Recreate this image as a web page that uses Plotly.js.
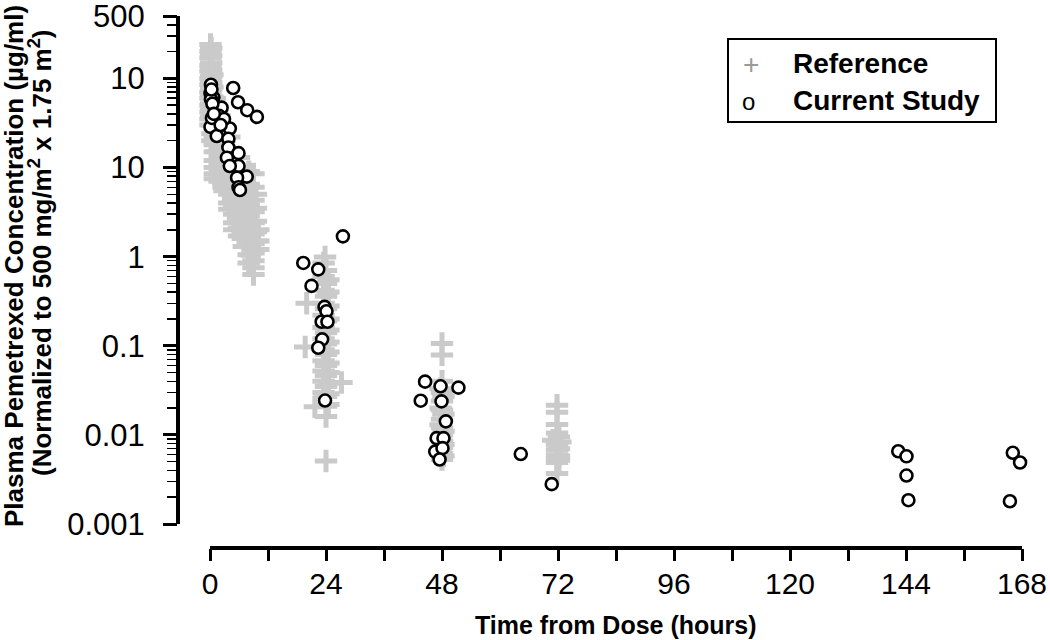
<!DOCTYPE html>
<html>
<head>
<meta charset="utf-8">
<script src="https://cdn.plot.ly/plotly-3.0.1.min.js"></script>
<style>html,body{margin:0;padding:0;background:#fff;}#chart{width:1050px;height:640px;}</style>
</head>
<body>
<div id="chart"></div>
<script>
// ---- Reference data (grey +) : time (h) and concentration (ug/ml) ----
var refHours = [
  0.1,0.1,0.1,0.1,0.1,0.1,0.1,0.1,0.1,0.1,0.1,0.1,0.1,
  0.25,0.25,0.25,0.25,0.25,0.25,0.25,0.25,0.25,0.25,0.25,
  0.5,0.5,0.5,0.5,0.5,0.5,0.5,0.5,
  1,1,1,1,1,1,1,1,1,1,1,
  1.5,1.5,1.5,1.5,1.5,1.5,
  2,2,2,2,2,2,2,2,2,
  3,3,3,3,3,3,3,3,
  4,4,4,4,4,4,4,4,4,
  5,5,5,5,5,5,5,5,5,
  6,6,6,6,6,6,6,6,6,
  7,7,7,7,7,7,7,7,
  8,8,8,8,8,8,8,8,8,8,
  9,9,9,9,9,9,9,9,9,9,9,
  9.5,9.5,9.5,9.5,9.5,9.5,
  10,10,10,
  23.5,23.5,23.5,23.5,23.5,23.5,23.5,23.5,23.5,23.5,23.5,23.5,
  24,24,24,24,24,24,24,24,24,24,24,24,24,24,24,
  24.5,24.5,24.5,24.5,24.5,24.5,24.5,24.5,24.5,24.5,24.5,24.5,
  23.8,20,19.7,27.2,21.7,
  48,48,48,48,48,48,48,48,48,48,48,48,48,
  47.7,47.7,47.7,47.7,47.7,
  48.3,48.3,48.3,48.3,48.3,
  71.8,71.8,71.8,71.8,71.8,71.8,71.8,71.8,71.8,71.8,
  72.5,71,
  72.2,72.2,72.2,72.2
];
var refConc = [
  240,200,170,140,120,100,85,70,60,50,42,35,30,
  220,180,150,125,105,90,75,62,52,44,37,
  110,80,62,48,38,30,24,20,
  60,45,35,28,22,18,15,12,10,8.5,7.5,
  40,30,24,19,15,12,
  38,28,21,17,13.5,11,9,7.5,7,
  26,20,16,12.5,10,8,6.5,5.5,
  22,16,12,9.5,7.5,6,5,4,3.4,
  13,10,7.5,6,4.8,3.8,3,2.4,2,
  13,9.5,7,5.5,4.2,3.3,2.6,2.1,1.7,
  8,6,4.5,3.5,2.7,2.1,1.6,1.3,
  9,6.5,5,3.8,2.9,2.2,1.7,1.3,1.05,0.85,
  8.5,6,4.3,3.2,2.4,1.8,1.4,1.1,0.9,0.75,0.63,
  5,3.5,2.5,1.9,1.5,1.2,
  2,1.5,1.2,
  0.85,0.6,0.42,0.3,0.22,0.16,0.12,0.09,0.068,0.052,0.04,0.03,
  0.7,0.5,0.36,0.26,0.19,0.14,0.105,0.08,0.06,0.046,0.035,0.027,0.021,0.0161,0.0051,
  0.55,0.4,0.28,0.2,0.15,0.11,0.085,0.064,0.05,0.038,0.029,0.022,
  0.99,0.30,0.097,0.0387,0.0207,
  0.106,0.079,0.04,0.03,0.024,0.019,0.015,0.012,0.01,0.0085,0.0072,0.0062,0.0053,
  0.033,0.02,0.013,0.009,0.0065,
  0.027,0.017,0.011,0.0078,0.0058,
  0.0215,0.018,0.0131,0.0105,0.0078,0.0068,0.006,0.0054,0.0049,0.0037,
  0.0083,0.0087,
  0.0095,0.007,0.0058,0.0052
];

// ---- Current study data (open circles) ----
var curHours = [
  0.2,4.8,0.1,0.7,5.8,7.7,9.7,1,2.4,1.7,0.1,4.1,1.4,3.8,3.8,5.9,3.5,5.9,4.1,7.6,5.6,5.9,6.2,
  0.2,0.5,0.4,1.9,2.9,0.8,0.3,2.2,
  27.5,19.3,22.4,21.0,23.7,24.1,23.1,24.3,23.2,22.4,23.8,
  44.5,47.7,51.4,43.6,47.9,48.8,46.9,48.3,46.6,48.1,47.5,
  64.3,70.7,
  142.4,144.1,144.1,144.5,
  166.1,167.6,165.5
];
var curConc = [
  85,78,68,61,54,44,37,46,47,31,28.6,27.4,22.6,21,16.8,14.5,12.9,10.4,10.4,7.9,7.7,6.0,5.6,
  58,52,36,38,35,40,75,30,
  1.69,0.85,0.72,0.47,0.273,0.244,0.186,0.186,0.118,0.095,0.0243,
  0.0396,0.0351,0.0339,0.0242,0.0238,0.0142,0.0092,0.0092,0.0065,0.0071,0.0053,
  0.0061,0.0028,
  0.00655,0.00575,0.0035,0.00185,
  0.0063,0.0049,0.0018
];

// ---- Axis ticks ----
var xTickVals = [0,12,24,36,48,60,72,84,96,108,120,132,144,156,168];
var xTickText = ["0","","24","","48","","72","","96","","120","","144","","168"];
var yTickVals = [0.001,0.01,0.1,1,10,100,500];
var yTickText = ["0.001","0.01","0.1","1","10","10","500"];
var yMinorVals = [0.002,0.003,0.004,0.005,0.006,0.007,0.008,0.009,
  0.02,0.03,0.04,0.05,0.06,0.07,0.08,0.09,
  0.2,0.3,0.4,0.5,0.6,0.7,0.8,0.9,
  2,3,4,5,6,7,8,9,
  20,30,40,50,60,70,80,90,
  200,300,400];

var FONT = "Liberation Sans, Arial, Helvetica, sans-serif";

var traces = [
  {
    x: refHours, y: refConc, type: 'scatter', mode: 'markers', name: 'Reference',
    cliponaxis: false, hoverinfo: 'x+y',
    marker: {symbol: 'cross-thin', size: 16, color: '#cacaca', line: {color: '#cacaca', width: 5}}
  },
  {
    x: curHours, y: curConc, type: 'scatter', mode: 'markers', name: 'Current Study',
    cliponaxis: false, hoverinfo: 'x+y',
    marker: {symbol: 'circle', size: 12, color: '#ffffff', line: {color: '#000000', width: 2.6}}
  }
];

var L = 178, R = 28, T = 16, B = 92, W = 1050, H = 640;
var pw = W - L - R, ph = H - T - B;
function px2paperX(px){ return (px - L) / pw; }
function py2paperY(py){ return (H - B - py) / ph; }

var layout = {
  width: W, height: H,
  margin: {l: L, r: R, t: T, b: B, pad: 0},
  paper_bgcolor: '#ffffff', plot_bgcolor: '#ffffff',
  showlegend: false,
  font: {family: FONT, color: '#000'},
  xaxis: {
    range: [-6.62, 168], showgrid: false, zeroline: false, showline: false,
    tickmode: 'array', tickvals: xTickVals, ticktext: xTickText,
    ticks: 'outside', ticklen: 12, tickwidth: 3, tickcolor: '#000',
    ticklabelstandoff: -3, ticklabeloverflow: 'allow',
    tickfont: {family: FONT, size: 30, color: '#000'}
  },
  yaxis: {
    type: 'log', range: [-3.269, 2.7003], showgrid: false, zeroline: false, showline: false,
    tickmode: 'array', tickvals: yTickVals, ticktext: yTickText,
    ticks: 'outside', ticklen: 14, tickwidth: 3, tickcolor: '#000',
    ticklabelstandoff: 12, ticklabeloverflow: 'allow',
    tickfont: {family: FONT, size: 31, color: '#000'},
    minor: {tickmode: 'array', tickvals: yMinorVals, ticks: 'outside', ticklen: 10, tickwidth: 1.5, tickcolor: '#000', showgrid: false}
  },
  shapes: [
    {type: 'line', xref: 'paper', yref: 'y', x0: 0, x1: 0, y0: 0.001, y1: 500, line: {color: '#000', width: 4}, layer: 'above'},
    {type: 'line', xref: 'x', yref: 'paper', x0: 0, x1: 168, y0: 0, y1: 0, line: {color: '#000', width: 4}, layer: 'above'},
    {type: 'rect', xref: 'paper', yref: 'paper', x0: px2paperX(728), x1: px2paperX(996), y0: py2paperY(122), y1: py2paperY(39), line: {color: '#000', width: 2}, fillcolor: 'rgba(0,0,0,0)', layer: 'above'}
  ],
  annotations: [
    {xref: 'paper', yref: 'paper', x: px2paperX(14), y: py2paperY(266), textangle: -90, showarrow: false,
     xanchor: 'center', yanchor: 'middle',
     text: '<b>Plasma Pemetrexed Concentration (µg/ml)</b>',
     font: {family: FONT, size: 26, color: '#000'}},
    {xref: 'paper', yref: 'paper', x: px2paperX(40), y: py2paperY(253), textangle: -90, showarrow: false,
     xanchor: 'center', yanchor: 'middle',
     text: '<b>(Normalized to 500 mg/m<sup>2</sup> x 1.75 m<sup>2</sup>)</b>',
     font: {family: FONT, size: 26, color: '#000'}},
    {xref: 'paper', yref: 'paper', x: px2paperX(616), y: py2paperY(625), showarrow: false,
     xanchor: 'center', yanchor: 'middle',
     text: '<b>Time from Dose (hours)</b>', font: {family: FONT, size: 25, color: '#000'}},
    {xref: 'paper', yref: 'paper', x: px2paperX(751), y: py2paperY(65), showarrow: false,
     xanchor: 'center', yanchor: 'middle', text: '+', font: {family: FONT, size: 28, color: '#9a9a9a'}},
    {xref: 'paper', yref: 'paper', x: px2paperX(748), y: py2paperY(101), showarrow: false,
     xanchor: 'center', yanchor: 'middle', text: 'o', font: {family: FONT, size: 24, color: '#000'}},
    {xref: 'paper', yref: 'paper', x: px2paperX(791), y: py2paperY(63), showarrow: false,
     xanchor: 'left', yanchor: 'middle', text: '<b>Reference</b>', font: {family: FONT, size: 28, color: '#000'}},
    {xref: 'paper', yref: 'paper', x: px2paperX(791), y: py2paperY(100), showarrow: false,
     xanchor: 'left', yanchor: 'middle', text: '<b>Current Study</b>', font: {family: FONT, size: 28, color: '#000'}}
  ]
};

Plotly.newPlot('chart', traces, layout, {displayModeBar: false, staticPlot: true});
</script>
</body>
</html>
